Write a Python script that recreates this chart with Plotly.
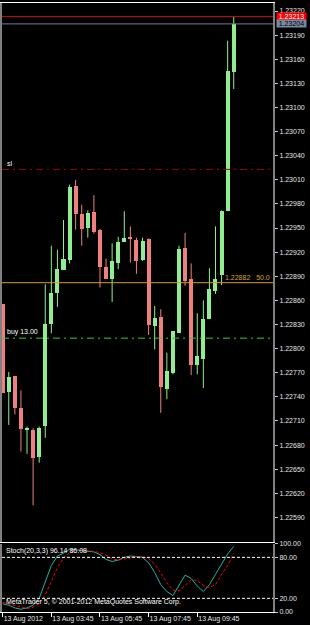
import plotly.graph_objects as go
from plotly.subplots import make_subplots

# ---------------- data ----------------
bar_index = list(range(39))
opens = [1.22855, 1.22746, 1.22766, 1.22726, 1.22699, 1.22699, 1.22665, 1.22704, 1.22830, 1.22869,
         1.22898, 1.22910, 1.23002, 1.22967, 1.22950, 1.22970, 1.22948, 1.22901, 1.22887, 1.22907,
         1.22933, 1.22939, 1.22935, 1.22910, 1.22936, 1.22828, 1.22839, 1.22750, 1.22770, 1.22820,
         1.22925, 1.22887, 1.22779, 1.22787, 1.22837, 1.22872, 1.22892, 1.22971, 1.23144]
highs = [1.22855, 1.22771, 1.22766, 1.22748, 1.22703, 1.22701, 1.22703, 1.22880, 1.22928, 1.22923,
         1.22960, 1.23004, 1.23010, 1.22979, 1.22972, 1.22991, 1.22949, 1.22912, 1.22931, 1.22939,
         1.22971, 1.22952, 1.22938, 1.22938, 1.22937, 1.22853, 1.22849, 1.22795, 1.22822, 1.22928,
         1.22944, 1.22906, 1.22844, 1.22860, 1.22900, 1.22952, 1.22972, 1.23183, 1.23213]
lows = [1.22745, 1.22705, 1.22718, 1.22672, 1.22669, 1.22605, 1.22658, 1.22689, 1.22819, 1.22852,
        1.22898, 1.22906, 1.22948, 1.22928, 1.22938, 1.22943, 1.22876, 1.22887, 1.22858, 1.22899,
        1.22933, 1.22907, 1.22893, 1.22909, 1.22817, 1.22799, 1.22720, 1.22737, 1.22768, 1.22820,
        1.22878, 1.22767, 1.22768, 1.22751, 1.22837, 1.22868, 1.22879, 1.22971, 1.23123]
closes = [1.22745, 1.22765, 1.22726, 1.22700, 1.22700, 1.22664, 1.22701, 1.22830, 1.22869, 1.22899,
          1.22912, 1.23001, 1.22967, 1.22949, 1.22969, 1.22945, 1.22901, 1.22887, 1.22909, 1.22933,
          1.22938, 1.22936, 1.22909, 1.22934, 1.22829, 1.22838, 1.22752, 1.22772, 1.22822, 1.22924,
          1.22884, 1.22779, 1.22791, 1.22837, 1.22874, 1.22887, 1.22971, 1.23145, 1.23204]

stoch_main = [12, 10, 6, 4, 6, 10, 20, 44, 68, 82,
              86, 92, 91, 89, 89, 88, 84, 77, 74, 76,
              80, 82, 81, 80, 72, 58, 40, 30, 24, 40,
              54, 49, 38, 30, 40, 55, 70, 85, 96.14]
stoch_signal = [14, 12, 10, 7, 5, 7, 12, 25, 44, 65,
                79, 87, 90, 91, 90, 89, 87, 83, 78, 76,
                77, 79, 81, 81, 78, 70, 57, 43, 32, 31,
                39, 47, 46, 39, 36, 40, 55, 68, 86.08]

price_ticks = [1.22590, 1.22620, 1.22650, 1.22680, 1.22710, 1.22740, 1.22770, 1.22800,
               1.22830, 1.22860, 1.22890, 1.22920, 1.22950, 1.22980, 1.23010, 1.23040,
               1.23070, 1.23100, 1.23130, 1.23160, 1.23190, 1.23220]
time_tick_index = [0, 8, 16, 24, 32]
time_tick_labels = ["13 Aug 2012", "13 Aug 03:45", "13 Aug 05:45", "13 Aug 07:45", "13 Aug 09:45"]
stoch_ticks = [0, 20, 80, 100]
stoch_tick_labels = ["0.00", "20.00", "80.00", "100.00"]
stoch_levels = [20, 80]

ask_price = 1.23213
bid_price = 1.23204
sl_price = 1.23023
buy_price = 1.22813
buy_label = "buy 13.00"
sl_label = "sl"
fib_price = 1.22882
fib_label = "50.0"
stoch_title = "Stoch(20,3,3) 96.14 86.08"
copyright_text = "MetaTrader 5, \u00a9 2001-2012 MetaQuotes Software Corp."

# ---------------- style ----------------
BULL = "#90EE90"
BEAR = "#F08080"
FONT = "Liberation Sans, Arial, sans-serif"
TXT = "#E6E6E6"

fig = make_subplots(rows=2, cols=1, shared_xaxes=True)

bases = [min(o, c) for o, c in zip(opens, closes)]
heights = [max(abs(c - o), 0.000012) for o, c in zip(opens, closes)]
colors = [BULL if c >= o else BEAR for o, c in zip(opens, closes)]

# wicks
for col, is_bull in ((BULL, True), (BEAR, False)):
    wx, wy = [], []
    for i, o, h, l, c in zip(bar_index, opens, highs, lows, closes):
        if (c >= o) == is_bull:
            wx += [i, i, None]
            wy += [l, h, None]
    fig.add_trace(go.Scatter(x=wx, y=wy, mode="lines", line=dict(color=col, width=1),
                             hoverinfo="skip", showlegend=False), row=1, col=1)

fig.add_trace(go.Bar(x=bar_index, y=heights, base=bases, width=0.66,
                     marker=dict(color=colors, line=dict(width=0)),
                     showlegend=False), row=1, col=1)

fig.add_trace(go.Scatter(x=bar_index, y=stoch_main, mode="lines",
                         line=dict(color="#20B2AA", width=1), showlegend=False), row=2, col=1)
fig.add_trace(go.Scatter(x=bar_index, y=stoch_signal, mode="lines",
                         line=dict(color="#FF0000", width=1, dash="3px,2px"), showlegend=False), row=2, col=1)

W, H = 310, 625
mt, mb, ml, mr = 3, 13, 2, 37
ph = H - mt - mb

def frac(ypx):
    return (H - mb - ypx) / ph

fig.update_layout(
    template="none",
    width=W, height=H,
    margin=dict(l=ml, r=mr, t=mt, b=mb, pad=0),
    paper_bgcolor="black", plot_bgcolor="black",
    showlegend=False,
    bargap=0,
    font=dict(family=FONT, size=7, color=TXT),
)

xcommon = dict(range=[-0.115, 44.46], showgrid=False, zeroline=False, automargin=False)
fig.update_xaxes(**xcommon)
fig.update_layout(
    xaxis=dict(showticklabels=False, ticks="", showline=True, linecolor="#FFFFFF",
               linewidth=1, mirror=True),
    xaxis2=dict(tickvals=time_tick_index, ticktext=time_tick_labels, ticks="outside",
                ticklen=4, tickcolor="#FFFFFF", tickwidth=1, ticklabelposition="outside right",
                tickangle=0, showline=True, linecolor="#FFFFFF", linewidth=1,
                tickfont=dict(family=FONT, size=7, color=TXT)),
    yaxis=dict(domain=[frac(541.5), 1], range=[1.22560, 1.23230], side="right",
               tickvals=price_ticks, tickformat=".5f", ticks="outside", ticklen=3,
               tickcolor="#C8C8C8", tickwidth=1, showline=True, linecolor="#808080",
               linewidth=2, mirror=True, showgrid=False, zeroline=False, automargin=False,
               tickfont=dict(family=FONT, size=7, color=TXT)),
    yaxis2=dict(domain=[0, frac(543.7)], range=[0, 100], side="right",
                tickvals=stoch_ticks, ticktext=stoch_tick_labels, ticks="outside", ticklen=3,
                tickcolor="#C8C8C8", tickwidth=1, showline=True, linecolor="#808080",
                linewidth=2, mirror=True, showgrid=False, zeroline=False, automargin=False,
                tickfont=dict(family=FONT, size=7, color=TXT)),
)

shapes = []
for lvl in stoch_levels:
    shapes.append(dict(type="line", xref="paper", x0=0, x1=1, yref="y2", y0=lvl, y1=lvl,
                       line=dict(color="#FFFFFF", width=1, dash="3px,2px")))
shapes.append(dict(type="line", xref="paper", x0=0, x1=1, yref="y", y0=ask_price, y1=ask_price,
                   line=dict(color="#C81414", width=1)))
shapes.append(dict(type="line", xref="paper", x0=0, x1=1, yref="y", y0=bid_price, y1=bid_price,
                   line=dict(color="#708090", width=1)))
shapes.append(dict(type="line", xref="paper", x0=0, x1=1, yref="y", y0=sl_price, y1=sl_price,
                   line=dict(color="#9B0A0A", width=1, dash="7px,4px,2px,4px")))
shapes.append(dict(type="line", xref="paper", x0=0, x1=1, yref="y", y0=buy_price, y1=buy_price,
                   line=dict(color="#32CD32", width=1, dash="7px,4px,2px,4px")))
shapes.append(dict(type="line", xref="paper", x0=0, x1=1, yref="y", y0=fib_price, y1=fib_price,
                   line=dict(color="#D99A2B", width=1)))
fig.update_layout(shapes=shapes)

ann = []
ann.append(dict(xref="paper", x=0, xanchor="left", xshift=3, yref="y", y=sl_price,
                yanchor="bottom", yshift=0, text=sl_label, showarrow=False,
                font=dict(family=FONT, size=7, color="#FFFFFF")))
ann.append(dict(xref="paper", x=0, xanchor="left", xshift=3, yref="y", y=buy_price,
                yanchor="bottom", yshift=0, text=buy_label, showarrow=False,
                font=dict(family=FONT, size=7, color="#FFFFFF")))
ann.append(dict(xref="paper", x=1, xanchor="right", xshift=-1, yref="y", y=fib_price,
                yanchor="bottom", yshift=0,
                text=f"{fib_price:.5f}\u00a0\u00a0\u00a0{fib_label}", showarrow=False,
                font=dict(family=FONT, size=7, color="#DAA520")))
ann.append(dict(xref="paper", x=1, xanchor="left", xshift=3, yref="y", y=ask_price,
                yanchor="middle", text=f"{ask_price:.5f}", showarrow=False,
                bgcolor="#FF0000", width=29, height=7, borderpad=0,
                font=dict(family=FONT, size=7, color="#FFFFFF")))
ann.append(dict(xref="paper", x=1, xanchor="left", xshift=3, yref="y", y=bid_price,
                yanchor="middle", text=f"{bid_price:.5f}", showarrow=False,
                bgcolor="#7888A0", width=29, height=7, borderpad=0,
                font=dict(family=FONT, size=7, color="#000000")))
ann.append(dict(xref="paper", x=0, xanchor="left", xshift=2, yref="y2 domain", y=1,
                yanchor="top", yshift=-1, text=stoch_title, showarrow=False,
                font=dict(family=FONT, size=7, color="#FFFFFF")))
ann.append(dict(xref="paper", x=0, xanchor="left", xshift=2, yref="y2 domain", y=0,
                yanchor="bottom", yshift=4, text=copyright_text, showarrow=False,
                font=dict(family=FONT, size=7, color="#FFFFFF")))
fig.update_layout(annotations=ann)

fig.write_html("out.html")
